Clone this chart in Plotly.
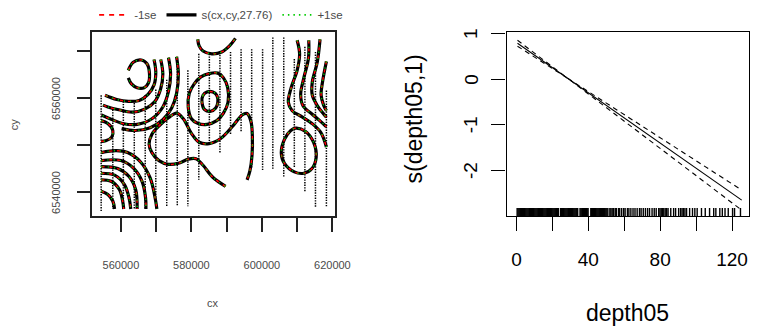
import plotly.graph_objects as go

# ================= LEFT PANEL DATA (cx, cy in km) =================
transect_cx = [554.4, 557.7, 560.7, 563.8, 566.9, 569.9, 573.0, 576.0, 579.0, 582.1, 585.1,
               588.1, 591.1, 594.1, 597.1, 600.2, 603.1, 606.2, 609.2, 612.2, 615.2, 618.3]
transect_top = [6560.6, 6558.1, 6559.3, 6559.5, 6560.6, 6561.8, 6563.9, 6566.8, 6565.9, 6569.4, 6569.4,
                6569.2, 6569.8, 6570.4, 6570.4, 6570.4, 6572.9, 6572.9, 6568.3, 6570.9, 6569.8, 6561.6]
transect_bottom = [6536.0, 6536.4, 6536.4, 6536.4, 6536.4, 6536.6, 6537.0, 6537.0, 6537.0, 6542.6, 6550.5,
                   6548.2, 6552.3, 6552.9, 6545.1, 6544.7, 6544.7, 6543.2, 6545.1, 6539.9, 6536.8, 6536.8]

topu_x = [581.8, 582.2, 583.3, 585.8, 588.6, 590.8, 592.5]
topu_y = [6572.5, 6571.1, 6570.0, 6569.4, 6569.8, 6571.1, 6572.7]
loop_x = [562.1, 563.5, 565.8, 567.4, 568.1, 567.8, 566.6, 564.6, 563.0, 562.1]
loop_y = [6565.9, 6567.6, 6568.1, 6567.3, 6565.3, 6563.2, 6562.2, 6562.2, 6563.0, 6564.3]
a1_x = [569.4, 569.9, 569.4, 567.7, 565.2, 562.1, 558.8, 555.5]
a1_y = [6568.2, 6565.5, 6562.8, 6560.8, 6559.5, 6559.3, 6559.7, 6560.6]
a2_x = [571.3, 571.9, 571.3, 569.7, 566.9, 563.3, 559.4, 556.3, 554.9]
a2_y = [6568.2, 6565.1, 6562.0, 6559.3, 6557.7, 6557.0, 6557.5, 6558.1, 6558.5]
a3_x = [573.5, 574.1, 573.5, 571.9, 568.8, 564.6, 560.5, 556.9, 554.5]
a3_y = [6568.6, 6565.1, 6561.4, 6558.1, 6555.6, 6554.4, 6554.6, 6555.6, 6556.4]
a4_x = [575.8, 576.3, 575.8, 574.4, 571.9, 568.3, 564.1, 560.2]
a4_y = [6568.8, 6565.1, 6561.0, 6557.9, 6555.4, 6553.7, 6553.1, 6553.5]
lb_x = [554.4, 556.3, 557.7, 557.4, 555.7, 554.4]
lb_y = [6555.2, 6554.6, 6553.1, 6551.7, 6550.9, 6550.8]
s_x = [589.7, 586.0, 583.3, 581.3, 579.1, 576.6, 573.5, 570.8, 568.8, 568.0, 568.8, 571.0, 573.5, 575.8,
       577.7, 580.0, 582.2, 585.0, 588.3, 591.9, 594.4, 595.8, 596.9, 597.3, 597.2, 596.6, 595.8]
s_y = [6541.2, 6543.2, 6545.7, 6547.1, 6547.0, 6546.2, 6545.9, 6546.7, 6548.4, 6550.2, 6552.3, 6554.2, 6555.8,
       6556.8, 6555.6, 6552.5, 6550.6, 6550.3, 6551.4, 6554.2, 6556.4, 6556.7, 6555.0, 6551.9, 6547.8, 6544.5, 6542.6]
ring_x = [580.0, 579.1, 579.4, 580.8, 582.7, 585.0, 587.5, 589.1, 590.3, 590.4, 589.1, 587.2, 584.4, 581.9, 580.0]
ring_y = [6555.6, 6558.1, 6561.0, 6563.0, 6564.5, 6565.2, 6565.3, 6564.3, 6562.2, 6559.1, 6556.8, 6555.2, 6554.4, 6554.6, 6555.6]
inner_x = [583.0, 583.3, 584.4, 586.1, 587.2, 587.5, 586.9, 585.5, 583.8, 583.0]
inner_y = [6559.1, 6560.6, 6561.3, 6561.3, 6560.6, 6559.1, 6557.9, 6557.2, 6557.5, 6559.1]
r1_x = [610.0, 610.7, 610.0, 608.3, 607.5, 608.6, 611.4, 614.2, 616.7, 618.3]
r1_y = [6572.3, 6569.4, 6565.9, 6562.2, 6559.1, 6557.3, 6556.0, 6554.6, 6552.7, 6549.6]
r2_x = [613.3, 613.2, 611.9, 611.0, 611.7, 614.2, 616.4, 618.3]
r2_y = [6572.3, 6568.4, 6564.3, 6560.8, 6558.3, 6556.6, 6555.2, 6553.9]
r3_x = [616.5, 615.7, 614.3, 614.3, 615.8, 617.3, 618.3]
r3_y = [6572.5, 6567.6, 6563.4, 6560.6, 6558.3, 6556.8, 6555.9]
r4_x = [618.3, 617.2, 616.8, 617.5, 618.3]
r4_y = [6567.8, 6563.4, 6560.6, 6558.5, 6557.3]
rr_x = [609.6, 612.4, 614.7, 615.4, 614.2, 611.9, 609.2, 606.4, 605.5, 606.4, 608.2, 609.6]
rr_y = [6553.6, 6552.9, 6550.5, 6547.4, 6545.0, 6544.0, 6544.3, 6546.1, 6548.4, 6551.2, 6553.1, 6553.6]
b1_x = [554.4, 558.7, 561.9, 565.6, 568.3, 569.7, 570.2]
b1_y = [6548.4, 6548.8, 6548.4, 6546.4, 6543.0, 6538.8, 6536.4]
b2_x = [554.4, 560.0, 563.7, 566.0, 567.0, 567.1]
b2_y = [6546.7, 6546.7, 6545.0, 6542.3, 6538.8, 6536.4]
b3_x = [554.4, 559.1, 562.3, 564.2, 564.6]
b3_y = [6545.4, 6545.0, 6543.3, 6540.5, 6536.4]
b4_x = [554.4, 558.2, 561.0, 562.3, 562.8]
b4_y = [6544.0, 6543.6, 6541.6, 6538.8, 6536.4]
b5_x = [554.4, 557.2, 559.6, 560.5, 560.8]
b5_y = [6542.6, 6542.3, 6540.5, 6538.1, 6536.4]
b6_x = [554.4, 556.3, 557.7, 558.2]
b6_y = [6540.2, 6539.5, 6538.1, 6536.4]

cx_ticks = [560000, 570000, 580000, 590000, 600000, 610000, 620000]
cx_labels = ["560000", "", "580000", "", "600000", "", "620000"]
cy_ticks = [6540000, 6550000, 6560000, 6570000]
cy_labels = ["6540000", "", "6560000", ""]

# ================= RIGHT PANEL DATA =================
depth_grid = [0.6, 28.5, 125.4]
fit = [0.783, 0.016, -2.651]
fit_upper = [0.848, 0.016, -2.43]
fit_lower = [0.718, 0.016, -2.87]
rug_depth = [0.4, 0.9, 1.4, 1.9, 2.4, 2.9, 3.4, 3.9, 4.4, 4.9, 5.4, 5.9, 6.4, 6.9, 7.4, 7.9, 8.4, 8.9, 9.4, 9.9,
             10.4, 10.9, 11.4, 11.9, 12.4, 12.9, 13.4, 13.9, 14.4, 14.9, 15.4, 15.9, 16.4, 16.9, 17.4, 17.9,
             18.4, 18.9, 19.4, 19.9, 20.4, 20.9, 21.4, 21.9, 22.4, 22.9, 23.4,
             24.6, 25.1, 25.6, 26.1, 26.6, 27.1, 27.6, 28.1, 28.6, 29.1, 29.6, 30.1, 30.6, 31.1, 31.6, 32.1,
             32.6, 33.1, 33.6, 34.1,
             35.4, 35.9, 36.4, 36.9, 37.4, 37.9, 38.4, 38.9, 39.4, 39.9,
             41.4, 41.9, 42.4, 42.9, 43.4, 43.9, 44.4, 44.9, 45.4, 45.9, 46.4, 46.9, 47.4, 47.9, 48.4, 48.9,
             49.4, 49.9, 50.4, 50.9,
             52.0, 52.6, 53.3, 54.1, 55.0, 55.6, 56.8, 57.5, 58.6, 59.7, 60.5, 61.8, 62.6, 63.7, 64.9, 66.0,
             67.2, 68.5, 69.4, 70.6, 71.8, 73.0, 74.1, 75.5, 76.7, 77.8, 79.2, 79.9, 80.6, 81.3, 82.0, 82.8,
             83.6, 84.4, 85.9, 87.5, 88.6, 90.3, 91.4, 92.2, 93.0, 93.8, 94.7, 96.4, 98.0, 99.3, 100.6, 103.0,
             105.1, 107.5, 109.8, 111.0, 113.2, 114.6, 116.1, 117.9, 120.3, 121.4, 124.7]
depth_ticks = [0, 20, 40, 60, 80, 100, 120]
depth_labels = ["0", "", "40", "", "80", "", "120"]
s_ticks = [-2, -1, 0, 1]
s_labels = ["-2", "-1", "0", "1"]

# ================= FIGURE =================
W, H = 769, 334
FONT = "Liberation Sans, Arial, sans-serif"
LGRAY = "#4a4a4a"
fig = go.Figure()

# transects as dotted vertical lines (data locations)
tx, ty = [], []
for c, t, b in zip(transect_cx, transect_top, transect_bottom):
    tx += [c * 1000, c * 1000, None]
    ty += [t * 1000, b * 1000, None]
fig.add_trace(go.Scatter(x=tx, y=ty, mode="lines", showlegend=False, hoverinfo="skip",
                         line=dict(color="black", width=1.5, dash="1.4px,1.2px"), xaxis="x", yaxis="y"))

contours = [(topu_x, topu_y), (loop_x, loop_y), (a1_x, a1_y), (a2_x, a2_y), (a3_x, a3_y), (a4_x, a4_y),
            (lb_x, lb_y), (s_x, s_y), (ring_x, ring_y), (inner_x, inner_y), (r1_x, r1_y), (r2_x, r2_y),
            (r3_x, r3_y), (r4_x, r4_y), (rr_x, rr_y), (b1_x, b1_y), (b2_x, b2_y), (b3_x, b3_y),
            (b4_x, b4_y), (b5_x, b5_y), (b6_x, b6_y)]
styles = [dict(color="black", width=3.2),
          dict(color="#ff0000", width=1.4, dash="3px,5px"),
          dict(color="#00cc00", width=1.4, dash="1.2px,5px")]
for st in styles:
    for cxs, cys in contours:
        fig.add_trace(go.Scatter(x=[v * 1000 for v in cxs], y=[v * 1000 for v in cys], mode="lines",
                                 line=dict(shape="spline", smoothing=1.0, **st), showlegend=False,
                                 hoverinfo="skip", xaxis="x", yaxis="y"))

# legend entries
fig.add_trace(go.Scatter(x=[None], y=[None], mode="lines", name="-1se",
                         line=dict(color="#ff0000", width=1.8, dash="5px,5px"), xaxis="x", yaxis="y"))
fig.add_trace(go.Scatter(x=[None], y=[None], mode="lines", name="s(cx,cy,27.76)",
                         line=dict(color="black", width=3.2), xaxis="x", yaxis="y"))
fig.add_trace(go.Scatter(x=[None], y=[None], mode="lines", name="+1se",
                         line=dict(color="#00cc00", width=1.8, dash="1.5px,4px"), xaxis="x", yaxis="y"))

# right panel
fig.add_trace(go.Scatter(x=depth_grid, y=fit, mode="lines", line=dict(color="black", width=1.1),
                         showlegend=False, xaxis="x2", yaxis="y2"))
fig.add_trace(go.Scatter(x=depth_grid, y=fit_upper, mode="lines",
                         line=dict(color="black", width=1.1, dash="5px,4px"), showlegend=False, xaxis="x2", yaxis="y2"))
fig.add_trace(go.Scatter(x=depth_grid, y=fit_lower, mode="lines",
                         line=dict(color="black", width=1.1, dash="5px,4px"), showlegend=False, xaxis="x2", yaxis="y2"))
fig.add_trace(go.Scatter(x=rug_depth, y=[-2.93] * len(rug_depth), mode="markers", showlegend=False,
                         marker=dict(symbol="line-ns", size=7, color="black", line=dict(color="black", width=1.4)),
                         xaxis="x2", yaxis="y2"))

def px_x(p):
    return p / W

def px_y(p):
    return 1 - p / H

annotations = [
    dict(text="cx", x=px_x(217), y=px_y(302), xref="paper", yref="paper", showarrow=False,
         xanchor="center", yanchor="middle", font=dict(size=11, color=LGRAY)),
    dict(text="cy", x=px_x(15), y=px_y(118), xref="paper", yref="paper", showarrow=False, textangle=-90,
         xanchor="center", yanchor="middle", font=dict(size=11, color=LGRAY)),
    dict(text="depth05", x=px_x(640), y=px_y(312), xref="paper", yref="paper", showarrow=False,
         xanchor="center", yanchor="middle", font=dict(size=23)),
    dict(text="s(depth05,1)", x=px_x(422), y=px_y(112), xref="paper", yref="paper", showarrow=False,
         xanchor="center", yanchor="middle", textangle=-90, font=dict(size=23)),
]
# rotated y tick labels (R style, parallel to axis)
for v, t in zip(cy_ticks, cy_labels):
    if t:
        annotations.append(dict(text=t, x=px_x(57), y=v, xref="paper", yref="y", showarrow=False,
                                textangle=-90, xanchor="center", yanchor="middle",
                                font=dict(size=11, color=LGRAY)))
for v, t in zip(s_ticks, s_labels):
    annotations.append(dict(text=t, x=px_x(480), y=v, xref="paper", yref="y2", showarrow=False,
                            textangle=-90, xanchor="center", yanchor="middle", font=dict(size=19)))

common = dict(showgrid=False, zeroline=False, showline=True, mirror=True, ticks="outside")
fig.update_layout(
    width=W, height=H, margin=dict(l=0, r=0, t=0, b=0),
    paper_bgcolor="white", plot_bgcolor="white",
    font=dict(family=FONT, color="black"),
    xaxis=dict(domain=[px_x(94.3), px_x(342)], range=[551933, 620834], tickvals=cx_ticks, ticktext=cx_labels,
               linecolor="#222", linewidth=1.5, tickcolor="#222", tickwidth=1.5, ticklen=14,
               ticklabelstandoff=24, tickfont=dict(size=11, color=LGRAY), anchor="y", **common),
    yaxis=dict(domain=[px_y(212.3), px_y(22.3)], range=[6534925, 6574126], tickvals=cy_ticks,
               showticklabels=False,
               linecolor="#222", linewidth=1.5, tickcolor="#222", tickwidth=1.5, ticklen=14,
               anchor="x", **common),
    xaxis2=dict(domain=[px_x(516.7), px_x(764)], range=[-5.45, 129.5], tickvals=depth_ticks, ticktext=depth_labels,
                linecolor="black", linewidth=1.3, tickcolor="black", tickwidth=1.3, ticklen=14,
                ticklabelstandoff=12, tickfont=dict(size=19), anchor="y2", **common),
    yaxis2=dict(domain=[px_y(212.3), px_y(22.7)], range=[-2.996, 1.028], tickvals=s_ticks,
                showticklabels=False,
                linecolor="black", linewidth=1.3, tickcolor="black", tickwidth=1.3, ticklen=14,
                anchor="x2", **common),
    legend=dict(orientation="h", x=px_x(96), y=px_y(-10), xanchor="left", yanchor="top",
                font=dict(size=11.5, color=LGRAY), bgcolor="rgba(0,0,0,0)", itemwidth=30, tracegroupgap=0),
    annotations=annotations,
)

fig.write_html("out.html")
